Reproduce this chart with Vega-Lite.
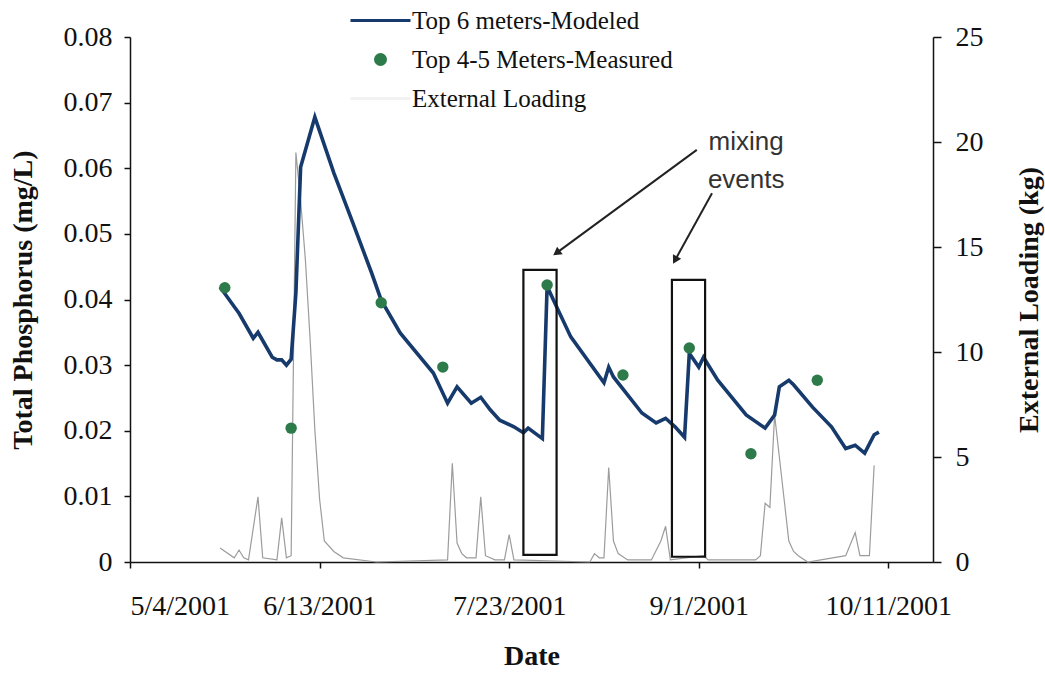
{
  "$schema": "https://vega.github.io/schema/vega-lite/v6.json",
  "width": 803,
  "height": 525,
  "autosize": "none",
  "padding": {"left": 130, "top": 37, "right": 112, "bottom": 111},
  "background": "white",
  "config": {
    "view": {"stroke": null},
    "axis": {
      "grid": false,
      "domainColor": "#111111",
      "tickColor": "#111111",
      "labelColor": "#111111",
      "titleColor": "#111111",
      "domainWidth": 1.5,
      "tickWidth": 1.5,
      "labelFont": "Liberation Serif",
      "titleFont": "Liberation Serif",
      "labelFontSize": 28,
      "titleFontSize": 28,
      "titleFontWeight": "bold"
    }
  },
  "datasets": {
    "modeled": [
      {"date": "2001-05-23", "tp": 0.0419, "series": "Top 6 meters-Modeled"},
      {"date": "2001-05-26", "tp": 0.0389, "series": "Top 6 meters-Modeled"},
      {"date": "2001-05-27", "tp": 0.0379, "series": "Top 6 meters-Modeled"},
      {"date": "2001-05-30", "tp": 0.0341, "series": "Top 6 meters-Modeled"},
      {"date": "2001-05-31", "tp": 0.0350, "series": "Top 6 meters-Modeled"},
      {"date": "2001-06-03", "tp": 0.0312, "series": "Top 6 meters-Modeled"},
      {"date": "2001-06-04", "tp": 0.0308, "series": "Top 6 meters-Modeled"},
      {"date": "2001-06-05", "tp": 0.0308, "series": "Top 6 meters-Modeled"},
      {"date": "2001-06-06", "tp": 0.0300, "series": "Top 6 meters-Modeled"},
      {"date": "2001-06-07", "tp": 0.0309, "series": "Top 6 meters-Modeled"},
      {"date": "2001-06-08", "tp": 0.0410, "series": "Top 6 meters-Modeled"},
      {"date": "2001-06-09", "tp": 0.0602, "series": "Top 6 meters-Modeled"},
      {"date": "2001-06-12", "tp": 0.0678, "series": "Top 6 meters-Modeled"},
      {"date": "2001-06-16", "tp": 0.0593, "series": "Top 6 meters-Modeled"},
      {"date": "2001-06-20", "tp": 0.0517, "series": "Top 6 meters-Modeled"},
      {"date": "2001-06-24", "tp": 0.0440, "series": "Top 6 meters-Modeled"},
      {"date": "2001-06-26", "tp": 0.0399, "series": "Top 6 meters-Modeled"},
      {"date": "2001-06-30", "tp": 0.0349, "series": "Top 6 meters-Modeled"},
      {"date": "2001-07-07", "tp": 0.0288, "series": "Top 6 meters-Modeled"},
      {"date": "2001-07-10", "tp": 0.0242, "series": "Top 6 meters-Modeled"},
      {"date": "2001-07-12", "tp": 0.0267, "series": "Top 6 meters-Modeled"},
      {"date": "2001-07-15", "tp": 0.0242, "series": "Top 6 meters-Modeled"},
      {"date": "2001-07-17", "tp": 0.0251, "series": "Top 6 meters-Modeled"},
      {"date": "2001-07-19", "tp": 0.0232, "series": "Top 6 meters-Modeled"},
      {"date": "2001-07-21", "tp": 0.0216, "series": "Top 6 meters-Modeled"},
      {"date": "2001-07-24", "tp": 0.0206, "series": "Top 6 meters-Modeled"},
      {"date": "2001-07-26", "tp": 0.0197, "series": "Top 6 meters-Modeled"},
      {"date": "2001-07-27", "tp": 0.0204, "series": "Top 6 meters-Modeled"},
      {"date": "2001-07-30", "tp": 0.0188, "series": "Top 6 meters-Modeled"},
      {"date": "2001-07-31", "tp": 0.0420, "series": "Top 6 meters-Modeled"},
      {"date": "2001-08-02", "tp": 0.0389, "series": "Top 6 meters-Modeled"},
      {"date": "2001-08-05", "tp": 0.0343, "series": "Top 6 meters-Modeled"},
      {"date": "2001-08-12", "tp": 0.0273, "series": "Top 6 meters-Modeled"},
      {"date": "2001-08-13", "tp": 0.0297, "series": "Top 6 meters-Modeled"},
      {"date": "2001-08-14", "tp": 0.0282, "series": "Top 6 meters-Modeled"},
      {"date": "2001-08-20", "tp": 0.0227, "series": "Top 6 meters-Modeled"},
      {"date": "2001-08-23", "tp": 0.0212, "series": "Top 6 meters-Modeled"},
      {"date": "2001-08-25", "tp": 0.0219, "series": "Top 6 meters-Modeled"},
      {"date": "2001-08-27", "tp": 0.0206, "series": "Top 6 meters-Modeled"},
      {"date": "2001-08-29", "tp": 0.0190, "series": "Top 6 meters-Modeled"},
      {"date": "2001-08-30", "tp": 0.0318, "series": "Top 6 meters-Modeled"},
      {"date": "2001-09-01", "tp": 0.0297, "series": "Top 6 meters-Modeled"},
      {"date": "2001-09-02", "tp": 0.0312, "series": "Top 6 meters-Modeled"},
      {"date": "2001-09-05", "tp": 0.0277, "series": "Top 6 meters-Modeled"},
      {"date": "2001-09-11", "tp": 0.0224, "series": "Top 6 meters-Modeled"},
      {"date": "2001-09-15", "tp": 0.0204, "series": "Top 6 meters-Modeled"},
      {"date": "2001-09-17", "tp": 0.0224, "series": "Top 6 meters-Modeled"},
      {"date": "2001-09-18", "tp": 0.0267, "series": "Top 6 meters-Modeled"},
      {"date": "2001-09-20", "tp": 0.0277, "series": "Top 6 meters-Modeled"},
      {"date": "2001-09-21", "tp": 0.0270, "series": "Top 6 meters-Modeled"},
      {"date": "2001-09-25", "tp": 0.0236, "series": "Top 6 meters-Modeled"},
      {"date": "2001-09-29", "tp": 0.0206, "series": "Top 6 meters-Modeled"},
      {"date": "2001-10-02", "tp": 0.0173, "series": "Top 6 meters-Modeled"},
      {"date": "2001-10-04", "tp": 0.0178, "series": "Top 6 meters-Modeled"},
      {"date": "2001-10-06", "tp": 0.0166, "series": "Top 6 meters-Modeled"},
      {"date": "2001-10-08", "tp": 0.0194, "series": "Top 6 meters-Modeled"},
      {"date": "2001-10-09", "tp": 0.0198, "series": "Top 6 meters-Modeled"}
    ],
    "measured": [
      {"date": "2001-05-24", "tp": 0.0418, "series": "Top 4-5 Meters-Measured"},
      {"date": "2001-06-07", "tp": 0.0204, "series": "Top 4-5 Meters-Measured"},
      {"date": "2001-06-26", "tp": 0.0395, "series": "Top 4-5 Meters-Measured"},
      {"date": "2001-07-09", "tp": 0.0297, "series": "Top 4-5 Meters-Measured"},
      {"date": "2001-07-31", "tp": 0.0422, "series": "Top 4-5 Meters-Measured"},
      {"date": "2001-08-16", "tp": 0.0285, "series": "Top 4-5 Meters-Measured"},
      {"date": "2001-08-30", "tp": 0.0326, "series": "Top 4-5 Meters-Measured"},
      {"date": "2001-09-12", "tp": 0.0165, "series": "Top 4-5 Meters-Measured"},
      {"date": "2001-09-26", "tp": 0.0277, "series": "Top 4-5 Meters-Measured"}
    ],
    "loading": [
      {"date": "2001-05-23", "kg": 0.67}, {"date": "2001-05-26", "kg": 0.2},
      {"date": "2001-05-27", "kg": 0.57}, {"date": "2001-05-28", "kg": 0.2},
      {"date": "2001-05-29", "kg": 0.1}, {"date": "2001-05-31", "kg": 3.1},
      {"date": "2001-06-01", "kg": 0.2}, {"date": "2001-06-04", "kg": 0.1},
      {"date": "2001-06-05", "kg": 2.1}, {"date": "2001-06-06", "kg": 0.2},
      {"date": "2001-06-07", "kg": 0.3}, {"date": "2001-06-08", "kg": 19.5},
      {"date": "2001-06-09", "kg": 17.2}, {"date": "2001-06-10", "kg": 14.4},
      {"date": "2001-06-11", "kg": 10.6}, {"date": "2001-06-12", "kg": 6.3},
      {"date": "2001-06-13", "kg": 3.0}, {"date": "2001-06-14", "kg": 1.0},
      {"date": "2001-06-16", "kg": 0.5}, {"date": "2001-06-18", "kg": 0.2},
      {"date": "2001-06-25", "kg": 0.0}, {"date": "2001-07-10", "kg": 0.1},
      {"date": "2001-07-11", "kg": 4.7}, {"date": "2001-07-12", "kg": 0.9},
      {"date": "2001-07-13", "kg": 0.4}, {"date": "2001-07-14", "kg": 0.2},
      {"date": "2001-07-16", "kg": 0.2}, {"date": "2001-07-17", "kg": 3.1},
      {"date": "2001-07-18", "kg": 0.3}, {"date": "2001-07-20", "kg": 0.1},
      {"date": "2001-07-22", "kg": 0.1}, {"date": "2001-07-23", "kg": 1.3},
      {"date": "2001-07-24", "kg": 0.1}, {"date": "2001-08-09", "kg": 0.0},
      {"date": "2001-08-10", "kg": 0.4}, {"date": "2001-08-11", "kg": 0.2},
      {"date": "2001-08-12", "kg": 0.2}, {"date": "2001-08-13", "kg": 4.5},
      {"date": "2001-08-14", "kg": 1.0}, {"date": "2001-08-15", "kg": 0.4},
      {"date": "2001-08-17", "kg": 0.1}, {"date": "2001-08-22", "kg": 0.1},
      {"date": "2001-08-24", "kg": 1.0}, {"date": "2001-08-25", "kg": 1.7},
      {"date": "2001-08-26", "kg": 0.1}, {"date": "2001-09-02", "kg": 0.3},
      {"date": "2001-09-03", "kg": 0.1}, {"date": "2001-09-13", "kg": 0.1},
      {"date": "2001-09-14", "kg": 0.3}, {"date": "2001-09-15", "kg": 2.8},
      {"date": "2001-09-16", "kg": 2.6}, {"date": "2001-09-17", "kg": 7.0},
      {"date": "2001-09-19", "kg": 3.0}, {"date": "2001-09-20", "kg": 1.0},
      {"date": "2001-09-21", "kg": 0.5}, {"date": "2001-09-22", "kg": 0.3},
      {"date": "2001-09-24", "kg": 0.0}, {"date": "2001-10-02", "kg": 0.3},
      {"date": "2001-10-04", "kg": 1.4}, {"date": "2001-10-05", "kg": 0.3},
      {"date": "2001-10-07", "kg": 0.3}, {"date": "2001-10-08", "kg": 4.6}
    ],
    "boxes": [
      {"start": "2001-07-26", "end": "2001-08-02", "low": 0.0011, "high": 0.0445},
      {"start": "2001-08-26T08:00:00Z", "end": "2001-09-02T08:00:00Z", "low": 0.0008, "high": 0.0430}
    ],
    "arrows": [
      {"id": 1, "tail": "2001-08-31T14:00:00Z", "tailTp": 0.0628, "head": "2001-08-02", "headTp": 0.0471},
      {"id": 2, "tail": "2001-09-03T19:00:00Z", "tailTp": 0.0562, "head": "2001-08-27", "headTp": 0.0460}
    ],
    "notes": [
      {"date": "2001-09-11", "tp": 0.0628, "text": "mixing"},
      {"date": "2001-09-11", "tp": 0.0570, "text": "events"}
    ]
  },
  "resolve": {"scale": {"y": "independent"}},
  "layer": [
    {
      "data": {"name": "loading"},
      "mark": {"type": "line", "color": "#9c9c9c", "strokeWidth": 1.2},
      "encoding": {
        "x": {
          "field": "date",
          "type": "temporal",
          "scale": {
            "type": "utc",
            "domain": [
              {"year": 2001, "month": 5, "date": 4, "utc": true},
              {"year": 2001, "month": 10, "date": 20, "hours": 10, "utc": true}
            ],
            "nice": false
          },
          "axis": {
            "title": "Date",
            "labelExpr": "utcFormat(datum.value, '%-m/%-d/%Y')",
            "values": [
              {"year": 2001, "month": 5, "date": 4, "utc": true},
              {"year": 2001, "month": 6, "date": 13, "utc": true},
              {"year": 2001, "month": 7, "date": 23, "utc": true},
              {"year": 2001, "month": 9, "date": 1, "utc": true},
              {"year": 2001, "month": 10, "date": 11, "utc": true}
            ],
            "tickSize": 6,
            "labelPadding": 24,
            "titlePadding": 22,
            "labelOverlap": false
          }
        },
        "y": {
          "field": "kg",
          "type": "quantitative",
          "scale": {"domain": [0, 25], "nice": false, "zero": true},
          "axis": {
            "orient": "right",
            "title": "External Loading (kg)",
            "titleAngle": 270,
            "titleBaseline": "top",
            "values": [0, 5, 10, 15, 20, 25],
            "tickSize": 8,
            "labelPadding": 14,
            "titlePadding": 32
          }
        }
      }
    },
    {
      "layer": [
        {
          "data": {"name": "modeled"},
          "mark": {"type": "line", "strokeWidth": 3.6},
          "encoding": {
            "x": {
              "field": "date",
              "type": "temporal",
              "axis": {
                "title": "Date",
                "labelExpr": "utcFormat(datum.value, '%-m/%-d/%Y')",
                "values": [
                  {"year": 2001, "month": 5, "date": 4, "utc": true},
                  {"year": 2001, "month": 6, "date": 13, "utc": true},
                  {"year": 2001, "month": 7, "date": 23, "utc": true},
                  {"year": 2001, "month": 9, "date": 1, "utc": true},
                  {"year": 2001, "month": 10, "date": 11, "utc": true}
                ],
                "tickSize": 6,
                "labelPadding": 24,
                "titlePadding": 22,
                "labelOverlap": false
              }
            },
            "y": {
              "field": "tp",
              "type": "quantitative",
              "scale": {"domain": [0, 0.08], "nice": false},
              "axis": {
                "orient": "left",
                "title": "Total Phosphorus (mg/L)",
                "values": [0, 0.01, 0.02, 0.03, 0.04, 0.05, 0.06, 0.07, 0.08],
                "labelExpr": "datum.value == 0 ? '0' : format(datum.value, '.2f')",
                "tickSize": 6,
                "labelPadding": 12,
                "titlePadding": 26
              }
            },
            "color": {
              "field": "series",
              "type": "nominal",
              "scale": {
                "domain": ["Top 6 meters-Modeled", "Top 4-5 Meters-Measured", "External Loading"],
                "range": ["#173a6c", "#2d7a4a", "#f2f2f2"]
              },
              "legend": {
                "orient": "none",
                "legendX": 238,
                "legendY": -29,
                "title": null,
                "padding": 0,
                "labelFont": "Liberation Serif",
                "labelFontSize": 25,
                "labelColor": "#111111",
                "labelLimit": 500,
                "labelOffset": 19,
                "rowPadding": 13,
                "symbolSize": 100,
                "symbolStrokeWidth": 3,
                "encoding": {
                  "symbols": {
                    "shape": {"condition": {"test": "datum.value === 'Top 4-5 Meters-Measured'", "value": "circle"}, "value": "M-6,0H6"},
                    "fill": {"condition": {"test": "datum.value === 'Top 4-5 Meters-Measured'", "value": "#2d7a4a"}, "value": "transparent"},
                    "opacity": {"value": 1}
                  }
                }
              }
            }
          }
        },
        {
          "data": {"name": "measured"},
          "mark": {"type": "point", "filled": true, "size": 130, "color": "#2d7a4a", "opacity": 1},
          "encoding": {
            "x": {"field": "date", "type": "temporal"},
            "y": {"field": "tp", "type": "quantitative"}
          }
        },
        {
          "data": {"name": "boxes"},
          "mark": {"type": "rect", "fill": "transparent", "stroke": "#111111", "strokeWidth": 2.2},
          "encoding": {
            "x": {"field": "start", "type": "temporal"},
            "x2": {"field": "end"},
            "y": {"field": "high", "type": "quantitative"},
            "y2": {"field": "low"}
          }
        },
        {
          "data": {"name": "arrows"},
          "mark": {"type": "rule", "color": "#222222", "strokeWidth": 2},
          "encoding": {
            "x": {"field": "tail", "type": "temporal"},
            "x2": {"field": "head"},
            "y": {"field": "tailTp", "type": "quantitative"},
            "y2": {"field": "headTp"}
          }
        },
        {
          "data": {"name": "arrows"},
          "transform": [{"filter": "datum.id == 1"}],
          "mark": {"type": "point", "shape": "triangle-up", "filled": true, "size": 90, "color": "#222222", "opacity": 1, "angle": 234},
          "encoding": {
            "x": {"field": "head", "type": "temporal"},
            "y": {"field": "headTp", "type": "quantitative"}
          }
        },
        {
          "data": {"name": "arrows"},
          "transform": [{"filter": "datum.id == 2"}],
          "mark": {"type": "point", "shape": "triangle-up", "filled": true, "size": 90, "color": "#222222", "opacity": 1, "angle": 209},
          "encoding": {
            "x": {"field": "head", "type": "temporal"},
            "y": {"field": "headTp", "type": "quantitative"}
          }
        },
        {
          "data": {"name": "notes"},
          "mark": {"type": "text", "font": "Liberation Sans", "fontSize": 26, "align": "center", "baseline": "alphabetic", "color": "#333333"},
          "encoding": {
            "x": {"field": "date", "type": "temporal"},
            "y": {"field": "tp", "type": "quantitative"},
            "text": {"field": "text"}
          }
        }
      ]
    }
  ]
}
